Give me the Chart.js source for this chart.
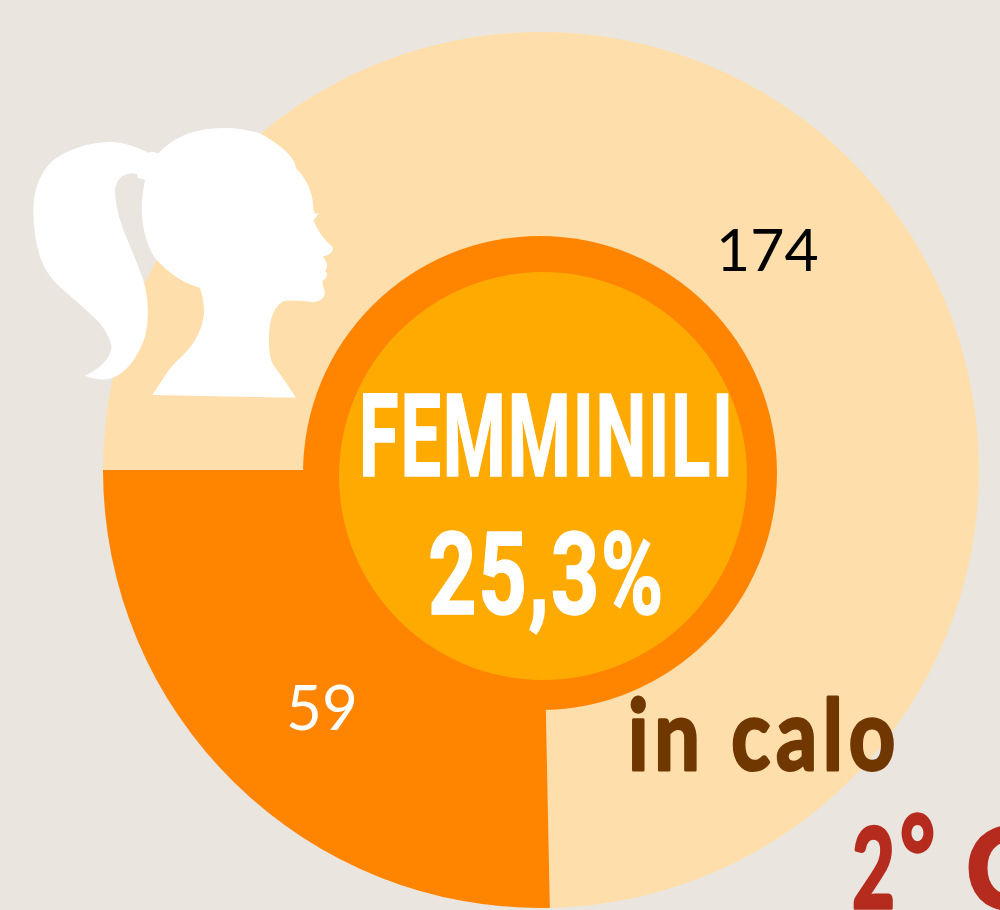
<!DOCTYPE html>
<html><head><meta charset="utf-8">
<script src="https://cdn.jsdelivr.net/npm/chart.js@4"></script>
<style>
html,body{margin:0;padding:0;background:#EAE5DF;overflow:hidden;width:1000px;height:910px}
#wrap{position:relative;width:1000px;height:910px}
canvas{position:absolute;left:0;top:0}
svg{position:absolute;left:0;top:0}
</style></head><body>
<div id="wrap">
<canvas id="c" width="1000" height="910"></canvas>
<svg width="1000" height="910" viewBox="0 0 1000 910">
  <path fill="#fff" transform="translate(20,110) scale(0.33333)" d="M385 128 Q330 98 270 95 Q170 100 100 150 Q45 200 40 290 Q38 370 60 440 Q80 500 130 540 Q200 600 240 640 Q270 680 275 710 Q270 760 195 797 Q240 815 275 805 Q340 780 375 680 Q395 600 370 510 Q340 430 310 360 Q285 290 285 240 Q290 195 335 190 L352 192 L353 203 L375 210 Q365 260 365 300 Q370 400 410 450 Q470 515 540 533 Q552 570 552 610 Q545 680 490 735 Q450 770 430 805 L397 855 L828 863 Q790 805 760 765 Q745 740 747 680 Q748 600 790 574 Q820 568 880 577 Q915 570 915 545 Q905 520 908 512 Q930 495 915 483 Q930 465 908 440 Q945 430 937 410 Q900 380 880 330 Q890 322 897 308 Q880 320 880 290 Q875 220 828 175 Q825 130 720 70 Q650 50 590 55 Q480 60 415 130 L395 125 Z"/>
  <g font-family="'Liberation Sans Narrow', Roboto, 'Liberation Sans', sans-serif" font-weight="700" fill="#fff" stroke="#fff" stroke-width="1.6">
    <text x="359" y="475.5" font-size="115" letter-spacing="3" textLength="376" lengthAdjust="spacingAndGlyphs">FEMMINILI</text>
    <text x="428" y="613.5" font-size="115" letter-spacing="2" textLength="237" lengthAdjust="spacingAndGlyphs">25,3%</text>
  </g>
  <text x="628" y="770" font-family="Lato, sans-serif" font-weight="700" font-size="98" letter-spacing="7" fill="#703800" stroke="#703800" stroke-width="3" stroke-linejoin="round" textLength="273" lengthAdjust="spacingAndGlyphs">in calo</text>
  <g font-family="Lato, sans-serif" font-weight="700" font-size="112" fill="#B52C1E" stroke="#B52C1E" stroke-width="3.5" stroke-linejoin="round">
    <text x="852" y="908" textLength="43" lengthAdjust="spacingAndGlyphs">2</text>
    <text x="900" y="896" textLength="35" lengthAdjust="spacingAndGlyphs">°</text>
    <text x="966" y="908">C</text>
  </g>
</svg>
</div>
<script>
const categories = ['Altri', 'Femminili'];
const values = [174, 59];
const sliceColors = ['#FEDFAB', '#FF8500'];
const labelColors = ['#000000', '#FFFFFF'];
const labelFonts = ['400 59px Lato, sans-serif', '400 62px Lato, sans-serif'];
const labelOffsets = [[-3.5, 16.5], [11, 5]];

const centerAndLabels = {
  id: 'centerAndLabels',
  afterDatasetsDraw(chart) {
    const ctx = chart.ctx;
    ctx.save();
    ctx.fillStyle = '#FF8500';
    ctx.beginPath(); ctx.arc(540, 473, 237, 0, Math.PI * 2); ctx.fill();
    ctx.fillStyle = '#FFAA00';
    ctx.beginPath(); ctx.arc(543, 476, 204, 0, Math.PI * 2); ctx.fill();
    const arcs = chart.getDatasetMeta(0).data;
    ctx.textAlign = 'center';
    ctx.textBaseline = 'middle';
    arcs.forEach((a, i) => {
      const p = a.tooltipPosition();
      ctx.font = labelFonts[i];
      ctx.fillStyle = labelColors[i];
      ctx.fillText(String(values[i]), p.x + labelOffsets[i][0], p.y + labelOffsets[i][1]);
    });
    ctx.restore();
  }
};

new Chart(document.getElementById('c'), {
  type: 'doughnut',
  data: { labels: categories, datasets: [{ data: values, backgroundColor: sliceColors, borderWidth: 0, hoverOffset: 0 }] },
  options: {
    responsive: false,
    animation: false,
    rotation: -90,
    cutout: '50%',
    layout: { padding: { left: 103, right: 21, top: 32, bottom: 2 } },
    plugins: { legend: { display: false }, tooltip: { enabled: false } }
  },
  plugins: [centerAndLabels]
});
</script>
</body></html>
